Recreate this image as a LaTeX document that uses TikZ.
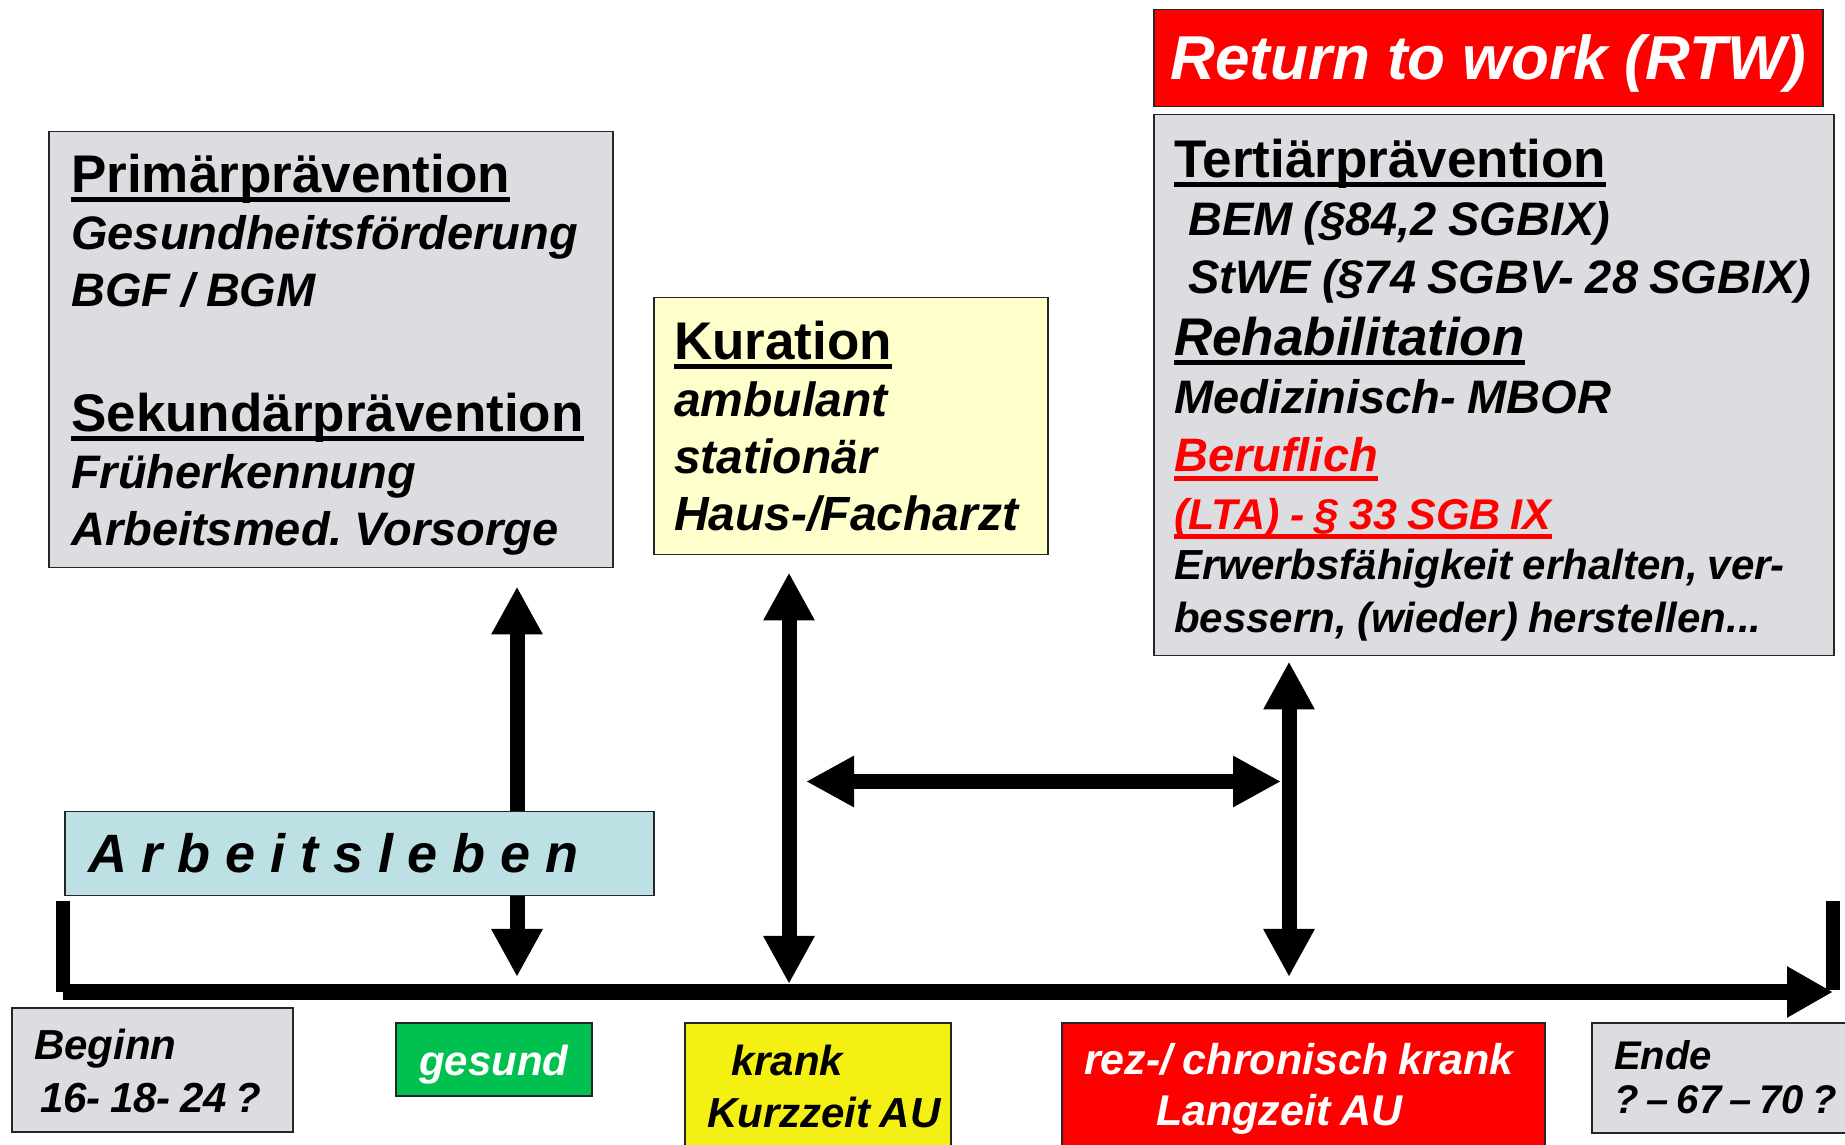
\documentclass[tikz,border=0pt]{standalone}
\usepackage{fontspec}
\setmainfont{Liberation Sans}
\usepackage{tikz}
\usetikzlibrary{arrows.meta, positioning, calc}
\definecolor{boxGray}{RGB}{220, 221, 225}
\definecolor{kurYellow}{RGB}{255, 255, 204}
\definecolor{rtwRed}{RGB}{255, 0, 0}
\definecolor{arbBlue}{RGB}{188, 224, 227}
\definecolor{gesGreen}{RGB}{0, 192, 80}
\definecolor{krankYellow}{RGB}{244, 240, 20}
\newsavebox{\myUbox}
\newcommand{\myUline}[1]{\leavevmode\sbox{\myUbox}{#1}\rlap{\rule[-9pt]{\wd\myUbox}{5pt}}\usebox{\myUbox}}
\newcommand{\myHead}[1]{\leavevmode{\fontsize{53}{57}\selectfont\upshape\myUline{#1}}}
\newcommand{\myFont}[2]{\bfseries\itshape\fontsize{#1}{#2}\selectfont}
\newcommand{\mySp}[1]{\spaceskip=#1em\xspaceskip=#1em\relax}
\frenchspacing
\tikzstyle{box} = [rectangle, draw=black!85, line width=1.5pt, inner sep=0pt, anchor=north west]
\tikzstyle{grayfill} = [fill=boxGray]
\tikzstyle{txt} = [anchor=base west, inner sep=0pt, text width=700pt, align=left]
\tikzstyle{dblarrow} = [line width=15pt, {Triangle[length=48pt,width=48pt]}-{Triangle[length=48pt,width=48pt]}]
\tikzstyle{tick} = [line width=14pt]

\begin{document}
\begin{tikzpicture}[x=1pt, y=1pt]
\useasboundingbox (0,0) rectangle (1845,1144);

% upper boxes
\node (prim) [box, grayfill, minimum width=564pt, minimum height=436pt] at (48,1013) {};
\node (primText) [txt, xshift=23pt, yshift=-62pt, font=\myFont{47}{57}] at(prim.north west) {\mySp{0.24}%
  \myHead{Primärprävention}\\
  Gesundheitsförderung\\
  BGF / BGM\\[68pt]
  \myHead{Sekundärprävention}\\
  Früherkennung\\
  Arbeitsmed. Vorsorge};

\node (kur) [box, fill=kurYellow, minimum width=394pt, minimum height=257pt] at (653,847) {};
\node (kurText) [txt, xshift=21pt, yshift=-63pt, font=\myFont{48}{57}] at(kur.north west) {\mySp{0.24}%
  \myHead{Kuration}\\
  ambulant\\
  stationär\\
  Haus-/Facharzt};

\node (rtw) [box, fill=rtwRed, minimum width=669pt, minimum height=97pt] at (1153,1135) {};
\node (rtwText) [anchor=base, inner sep=0pt, yshift=-71pt, text=white, font=\myFont{62}{70}] at(rtw.north) {Return to work (RTW)};

\node (tert) [box, grayfill, minimum width=680pt, minimum height=541pt] at (1153,1030) {};
\node (tertText) [txt, xshift=21pt, yshift=-64pt, font=\myFont{47}{58}] at(tert.north west) {\mySp{0.24}%
  \myHead{Tertiärprävention}\\
  \hspace*{14pt}BEM (§84,2 SGBIX)\\
  \hspace*{14pt}StWE (§74 SGBV- 28 SGBIX)\\[4pt]
  \leavevmode{\fontsize{53}{58}\selectfont\myUline{Rehabilitation}}\\
  Medizinisch- MBOR\\
  \leavevmode{\color{rtwRed}\myUline{Beruflich}}\\
  \leavevmode{\color{rtwRed}\fontsize{43}{58}\selectfont\mySp{0.24}\myUline{(LTA) - § 33 SGB IX}}\\[-8pt]
  \leavevmode{\fontsize{42}{58}\selectfont\mySp{0.24}Erwerbsfähigkeit erhalten, ver-}\\[-5pt]
  \leavevmode{\fontsize{42}{58}\selectfont\mySp{0.24}bessern, (wieder) herstellen...}};

% timeline
\coordinate (tlStart) at (63,152);
\coordinate (tlEnd) at (1833,152);
\draw [tick] ($(tlStart)+(0,91)$) -- (tlStart);
\draw [tick] ($(tlEnd)+(0,91)$) -- ($(tlEnd)+(0,2)$);
\draw [line width=16pt, -{Triangle[length=46pt,width=48pt]}] (tlStart) -- (tlEnd);

\draw [dblarrow] ($(prim.south west)+(469,-18)$) -- ($(tlStart)+(454,15)$);
\draw [dblarrow] ($(kur.south west)+(136,-17)$) -- ($(tlStart)+(726,8)$);
\draw [dblarrow] ($(tert.south west)+(136,-5)$) -- ($(tlStart)+(1226,15)$);
\draw [dblarrow] ($(kur.south west)+(153,-226)$) -- ($(tert.south west)+(128,-125)$);

\node (arb) [box, fill=arbBlue, minimum width=589pt, minimum height=84pt] at (64,333) {};
\node (arbText) [txt, xshift=24pt, yshift=-62pt, font=\myFont{54}{60}] at(arb.north west) {\mySp{0.275}A r b e i t s l e b e n};

% bottom boxes
\node (beginn) [box, grayfill, minimum width=281pt, minimum height=124pt] at (11,137) {};
\node (beginnText) [txt, xshift=23pt, yshift=-52pt, font=\myFont{42}{53}] at(beginn.north west) {\mySp{0.22}%
  Beginn\\
  \hspace*{6pt}16- 18- 24 ?};

\node (ges) [box, fill=gesGreen, minimum width=196pt, minimum height=73pt] at (395,122) {};
\node (gesText) [anchor=base, inner sep=0pt, yshift=-53pt, text=white, font=\myFont{42}{50}] at(ges.north) {gesund};

\node (krank) [box, fill=krankYellow, minimum width=266pt, minimum height=140pt] at (684,122) {};
\node (krankText) [txt, xshift=23pt, yshift=-53pt, font=\myFont{42}{52}] at(krank.north west) {\mySp{0.22}%
  \hspace*{24pt}krank\\
  Kurzzeit AU};

\node (rez) [box, fill=rtwRed, minimum width=483pt, minimum height=140pt] at (1061,122) {};
\node (rezText) [txt, xshift=23pt, yshift=-52pt, text=white, font=\myFont{43}{51}] at(rez.north west) {\mySp{0.24}%
  rez-/ chronisch krank\\
  \hspace*{72pt}Langzeit AU};

\node (ende) [box, grayfill, minimum width=270pt, minimum height=110pt] at (1591,122) {};
\node (endeText) [txt, xshift=23pt, yshift=-47pt, font=\myFont{40}{44}] at(ende.north west) {\mySp{0.2}%
  Ende\\
  ? – 67 – 70 ?};

\end{tikzpicture}
\end{document}
